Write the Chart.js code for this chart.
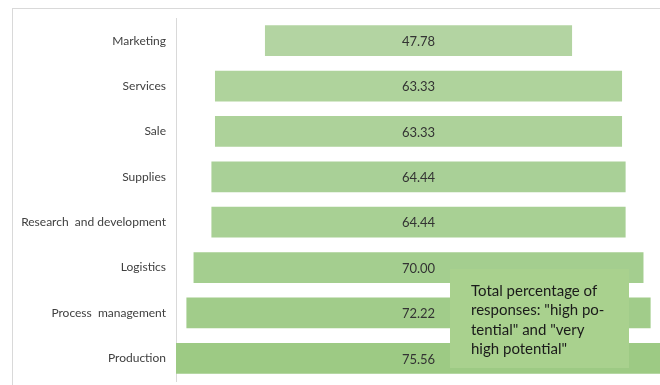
<!DOCTYPE html>
<html>
<head>
<meta charset="utf-8">
<script src="https://cdn.jsdelivr.net/npm/chart.js@4"></script>
<style>
  html, body { margin: 0; padding: 0; background: #fff; overflow: hidden; }
  #wrap { position: relative; width: 660px; height: 385px; overflow: hidden; }
  #frame { position: absolute; left: 12px; top: 8px; width: 660px; height: 400px; border: 1px solid #d9d9d9; }
  #funnel { position: absolute; left: 0; top: 0; }
</style>
</head>
<body>
<div id="wrap">
  <div id="frame"></div>
  <canvas id="funnel" width="660" height="385"></canvas>
</div>
<script>
const categories = ['Marketing', 'Services', 'Sale', 'Supplies', 'Research  and development', 'Logistics', 'Process  management', 'Production']
const shares = [47.78, 63.33, 63.33, 64.44, 64.44, 70.00, 72.22, 75.56]
const barColors = ['#b3d4a2', '#afd39c', '#add29a', '#a9d097', '#a8d094', '#a4ce8f', '#a1cc8a', '#9dca84']
const noteLines = ['Total percentage of', 'responses: "high po-', 'tential" and "very', 'high potential"']

// bars are centred on 0, so each one spans [-v/2, v/2]
const spans = shares.map(v => [-v / 2, v / 2])

const font = "Lato, 'Open Sans', sans-serif"

const valueLabels = {
    id: 'valueLabels',
    afterDatasetsDraw(chart) {
        const ctx = chart.ctx
        const meta = chart.getDatasetMeta(0)
        ctx.save()
        ctx.font = '13px ' + font
        ctx.fillStyle = '#333333'
        ctx.textAlign = 'center'
        ctx.textBaseline = 'middle'
        meta.data.forEach((bar, i) => {
            const cx = chart.scales.x.getPixelForValue(0)
            ctx.fillText(shares[i].toFixed(2), cx, bar.y + 1)
        })
        ctx.restore()
    }
}

// text box sitting over the lower bars
const noteBox = {
    id: 'noteBox',
    afterDraw(chart) {
        const ctx = chart.ctx
        ctx.save()
        ctx.fillStyle = '#a9d18e'
        ctx.fillRect(450, 269, 179, 99)
        ctx.font = '15px ' + font
        ctx.fillStyle = '#1a1a1a'
        ctx.textAlign = 'left'
        ctx.textBaseline = 'middle'
        noteLines.forEach((line, i) => ctx.fillText(line, 471, 291 + i * 19.5))
        ctx.restore()
    }
}

new Chart(document.getElementById('funnel').getContext('2d'), {
    type: 'bar',
    data: {
        labels: categories,
        datasets: [{
            data: spans,
            backgroundColor: barColors,
            borderWidth: 0,
            barPercentage: 0.68,
            categoryPercentage: 1
        }]
    },
    options: {
        indexAxis: 'y',
        responsive: false,
        animation: false,
        layout: { padding: { top: 18, bottom: 4, left: 0, right: 0 } },
        plugins: {
            legend: { display: false },
            tooltip: { enabled: false }
        },
        scales: {
            x: {
                display: false,
                min: -37.73,
                max: 37.57
            },
            y: {
                afterFit: scale => {
                    scale.width = 176
                    scale.paddingTop = 0
                    scale.paddingBottom = 0
                },
                grid: { display: false, drawTicks: false },
                border: { display: true, color: '#d9d9d9', width: 1 },
                ticks: {
                    padding: 10,
                    color: '#404040',
                    font: { family: font, size: 12 }
                }
            }
        }
    },
    plugins: [valueLabels, noteBox]
})
</script>
</body>
</html>
